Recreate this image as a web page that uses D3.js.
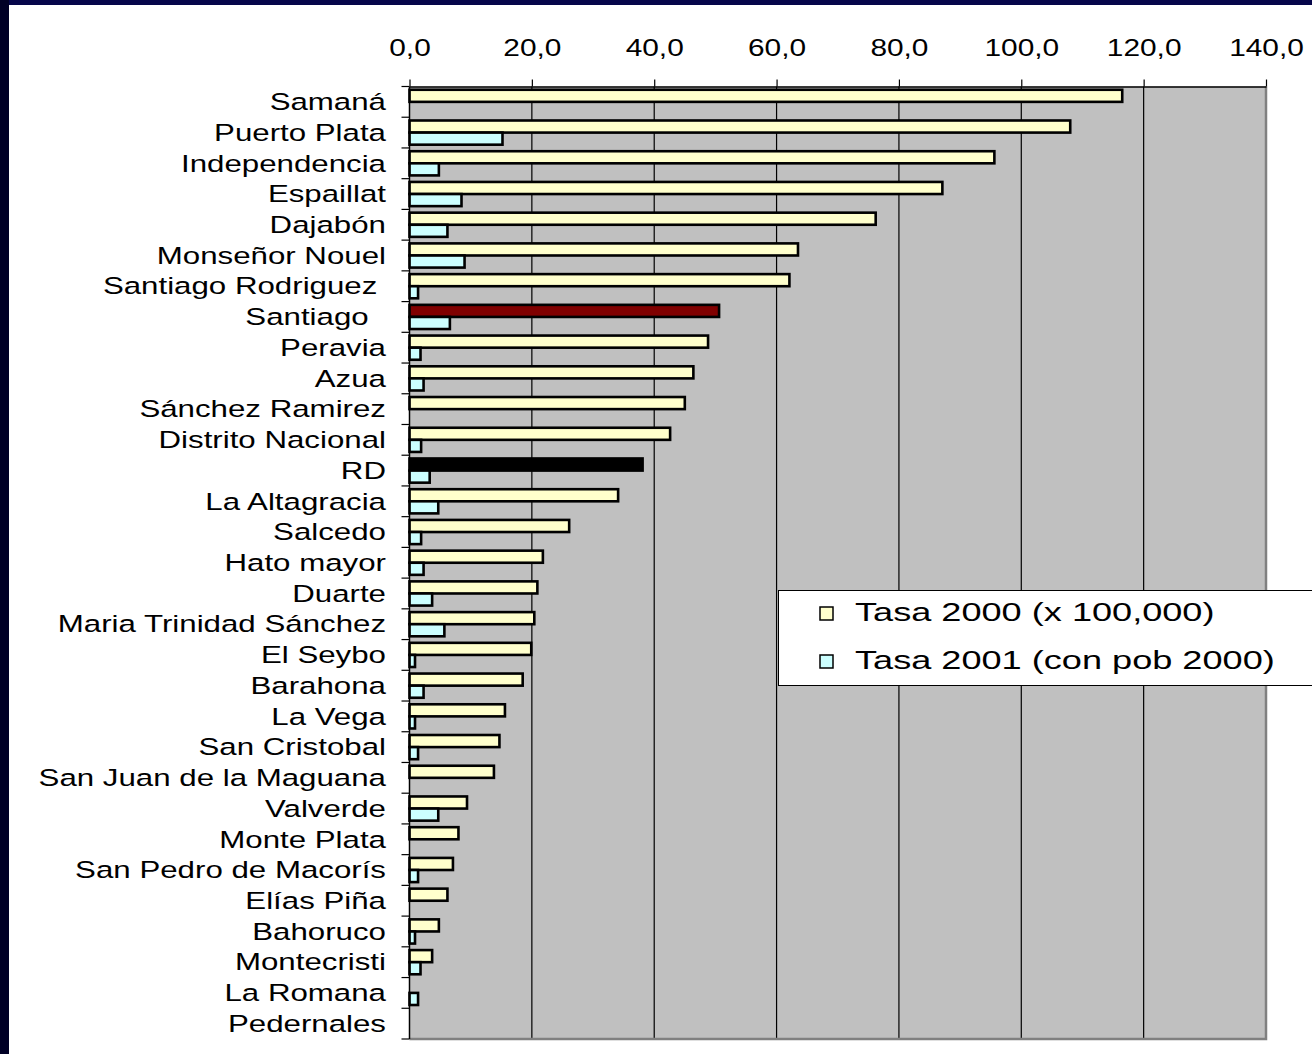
<!DOCTYPE html>
<html>
<head>
<meta charset="utf-8">
<script src="https://cdn.jsdelivr.net/npm/d3@7"></script>
<style>
  html, body { margin: 0; padding: 0; background: #fff; }
  svg { display: block; }
  text { font-family: "Liberation Sans", Arial, sans-serif; fill: #000; white-space: pre; }
</style>
</head>
<body>
<svg id="chart" width="1312" height="1054"></svg>
<script>
// Provinces, ordered top to bottom
const provinces = [
  "Samaná", "Puerto Plata", "Independencia", "Espaillat", "Dajabón",
  "Monseñor Nouel", "Santiago Rodriguez ", "Santiago  ", "Peravia", "Azua",
  "Sánchez Ramirez", "Distrito Nacional", "RD", "La Altagracia", "Salcedo",
  "Hato mayor", "Duarte", "Maria Trinidad Sánchez", "El Seybo", "Barahona",
  "La Vega", "San Cristobal", "San Juan de la Maguana", "Valverde", "Monte Plata",
  "San Pedro de Macorís", "Elías Piña", "Bahoruco", "Montecristi", "La Romana",
  "Pedernales"
];

// Rate per 100,000, year 2000
const tasa2000 = [
  116.5, 108.0, 95.6, 87.1, 76.2,
  63.5, 62.1, 50.6, 48.8, 46.4,
  45.0, 42.6, 38.1, 34.1, 26.1,
  21.8, 20.9, 20.4, 19.9, 18.5,
  15.6, 14.7, 13.8, 9.4, 8.0,
  7.1, 6.2, 4.8, 3.7, 0,
  0
];

// Rate for 2001 (using 2000 population)
const tasa2001 = [
  0, 15.2, 4.8, 8.5, 6.2,
  9.0, 1.4, 6.6, 1.8, 2.3,
  0, 1.9, 3.3, 4.7, 1.9,
  2.3, 3.7, 5.7, 0.9, 2.3,
  0.9, 1.4, 0, 4.7, 0,
  1.4, 0, 0.9, 1.8, 1.4,
  0
];

const seriesNames = ["Tasa 2000 (x 100,000)", "Tasa 2001 (con pob 2000)"];
const tickValues = [0, 20, 40, 60, 80, 100, 120, 140];
const tickLabels = ["0,0", "20,0", "40,0", "60,0", "80,0", "100,0", "120,0", "140,0"];

// Fill colours
const seriesFill = ["#FFFFCC", "#CCFFFF"];
const highlightFill = { "Santiago  ": "#800000", "RD": "#000000" };

const svg = d3.select("#chart");
const W = 1312, H = 1054;
const plot = { left: 409.5, right: 1266, top: 86.5, bottom: 1039 };
const labelStretch = 1.33;
const axisStretch = 1.27;
const legendStretch = 1.39;

// page frame
svg.append("rect").attr("x", 0).attr("y", 0).attr("width", W).attr("height", H).attr("fill", "#fff");
svg.append("rect").attr("x", 0).attr("y", 0).attr("width", W).attr("height", 5).attr("fill", "#06064a");
svg.append("rect").attr("x", 0).attr("y", 0).attr("width", 9).attr("height", H).attr("fill", "#000026");

const x = d3.scaleLinear().domain([0, 140]).range([plot.left, plot.right]);
const y = d3.scaleBand().domain(provinces).range([plot.top, plot.bottom]).paddingInner(0).paddingOuter(0);
const ySub = d3.scaleBand().domain([0, 1]).range([0, y.bandwidth()]).paddingInner(0).paddingOuter(0.27);

// plot background
svg.append("rect")
  .attr("x", plot.left).attr("y", plot.top)
  .attr("width", plot.right - plot.left).attr("height", plot.bottom - plot.top)
  .attr("fill", "#C0C0C0");

// vertical gridlines
svg.append("g").selectAll("line")
  .data(tickValues.slice(1, -1))
  .join("line")
  .attr("x1", d => x(d)).attr("x2", d => x(d))
  .attr("y1", plot.top).attr("y2", plot.bottom)
  .attr("stroke", "#000").attr("stroke-width", 1.2);

// right and bottom plot edges
svg.append("path")
  .attr("d", `M${plot.right},${plot.top}V${plot.bottom}H${plot.left}`)
  .attr("fill", "none").attr("stroke", "#808080").attr("stroke-width", 2.5);

// bars
const rows = provinces.map((p, i) => ({ p, vals: [tasa2000[i], tasa2001[i]] }));
const barG = svg.append("g");
rows.forEach(r => {
  r.vals.forEach((v, s) => {
    if (!v) return;
    const fill = s === 0 && highlightFill[r.p] ? highlightFill[r.p] : seriesFill[s];
    barG.append("rect")
      .attr("x", x(0))
      .attr("y", y(r.p) + ySub(s))
      .attr("width", x(v) - x(0))
      .attr("height", ySub.bandwidth())
      .attr("fill", fill)
      .attr("stroke", "#000")
      .attr("stroke-width", 2.6);
  });
});

// top value axis
const xAxis = d3.axisTop(x)
  .tickValues(tickValues)
  .tickSize(7)
  .tickSizeOuter(0)
  .tickFormat((d, i) => tickLabels[i]);
const gx = svg.append("g").attr("transform", `translate(0,${plot.top})`).call(xAxis);
gx.select(".domain").attr("stroke", "#000").attr("stroke-width", 1.3);
gx.selectAll(".tick line").attr("stroke", "#000").attr("stroke-width", 1.2);
gx.selectAll(".tick text")
  .attr("y", -31).attr("dy", 0)
  .attr("font-size", 23.5)
  .attr("font-family", "Liberation Sans, Arial, sans-serif")
  .attr("transform", `scale(${axisStretch},1)`);

// left category axis: line, ticks between categories, labels
const gy = svg.append("g");
gy.append("line")
  .attr("x1", plot.left).attr("x2", plot.left)
  .attr("y1", plot.top).attr("y2", plot.bottom)
  .attr("stroke", "#000").attr("stroke-width", 1.5);
const boundaries = provinces.map(p => y(p)).concat([y.range()[1]]);
gy.selectAll("line.tk")
  .data(boundaries)
  .join("line")
  .attr("class", "tk")
  .attr("x1", plot.left - 8).attr("x2", plot.left)
  .attr("y1", d => d).attr("y2", d => d)
  .attr("stroke", "#000").attr("stroke-width", 1.2);
gy.selectAll("text")
  .data(provinces)
  .join("text")
  .attr("transform", d => `translate(386,${y(d) + y.bandwidth() / 2}) scale(${labelStretch},1)`)
  .attr("text-anchor", "end")
  .attr("dy", "0.35em")
  .attr("font-size", 23.5)
  .text(d => d);

// legend
const lg = svg.append("g");
lg.append("rect")
  .attr("x", 778.5).attr("y", 590.5).attr("width", 600).attr("height", 95)
  .attr("fill", "#fff").attr("stroke", "#000").attr("stroke-width", 1);
seriesNames.forEach((name, i) => {
  const cy = 612 + i * 48;
  lg.append("rect")
    .attr("x", 820).attr("y", cy - 5).attr("width", 13).attr("height", 13)
    .attr("fill", seriesFill[i]).attr("stroke", "#000").attr("stroke-width", 1.5);
  lg.append("text")
    .attr("transform", `translate(855,${cy}) scale(${legendStretch},1)`)
    .attr("dy", "0.35em")
    .attr("font-size", 26)
    .text(name);
});
</script>
</body>
</html>
